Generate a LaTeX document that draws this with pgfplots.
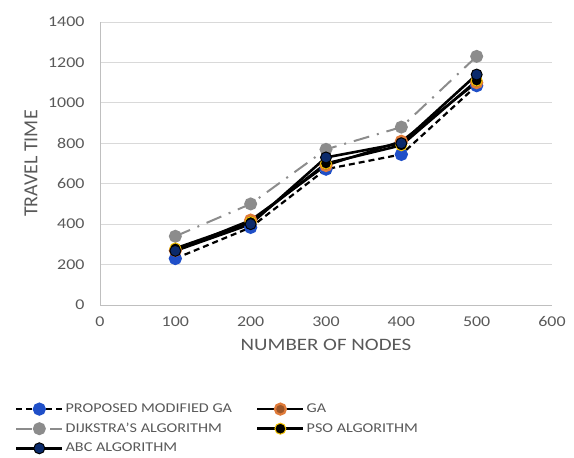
\documentclass[border=0pt]{standalone}
\usepackage{pgfplots}
\pgfplotsset{compat=1.18}
\usepackage{fontspec}
\setmainfont{Carlito}[FakeStretch=1.2]
\newfontfamily\plainfont{Carlito}
\definecolor{txt}{HTML}{595959}
\definecolor{gridc}{HTML}{D9D9D9}
\definecolor{axc}{HTML}{BFBFBF}
\definecolor{pblue}{HTML}{1F4FC8}
\definecolor{gaorange}{HTML}{E07B39}
\definecolor{dgray}{HTML}{8C8C8C}
\definecolor{psoy}{HTML}{F2C100}
\definecolor{abcb}{HTML}{0B2A6B}
\begin{document}
\begin{tikzpicture}
\begin{axis}[
  name=ax,
  scale only axis,
  width=452bp, height=283bp,
  xmin=0, xmax=600, ymin=0, ymax=1400,
  xtick={0,100,...,600}, ytick={0,200,...,1400},
  axis x line*=bottom, axis y line*=left,
  axis line style={axc, line width=1pt},
  x axis line style={-}, y axis line style={-},
  tick style={draw=none},
  ymajorgrids, grid style={gridc, line width=0.8pt},
  /pgf/number format/assume math mode=true,
  /pgf/number format/1000 sep={},
  ticklabel style={font=\fontsize{15}{17}\selectfont, text=txt},
  xticklabel style={yshift=-8bp},
  yticklabel style={xshift=-12bp},
  xlabel={NUMBER OF NODES}, ylabel={TRAVEL TIME},
  xlabel style={font=\fontsize{17.5}{19}\selectfont, text=txt, yshift=-6bp},
  ylabel style={font=\plainfont\fontsize{20}{21}\selectfont, text=txt, yshift=4bp},
  legend columns=2,
  legend cell align=left,
  legend style={draw=none, fill=none, at={(-0.195,-0.335)}, anchor=north west,
    font=\fontsize{13.5}{15}\selectfont, text=txt,
    /tikz/every even column/.append style={column sep=22bp},
    row sep=5bp},
  legend image code/.code={\draw (0bp,0bp) -- (46bp,0bp); \draw plot coordinates {(23bp,0bp)};},
]
\addplot[black, dashed, line width=2.2pt, dash pattern=on 6bp off 4bp, mark=*, mark size=5.5bp, mark options={solid, fill=pblue, draw=pblue}]
  coordinates {(100,230)(200,384)(300,672)(400,745)(500,1085)};
\addlegendentry{PROPOSED MODIFIED GA}
\addplot[black, line width=2.2pt, mark=*, mark size=5.5bp, mark options={fill=gaorange!70!black, draw=gaorange}]
  coordinates {(100,270)(200,420)(300,690)(400,810)(500,1100)};
\addlegendentry{GA}
\addplot[dgray, line width=2pt, dash pattern=on 16bp off 8bp on 2bp off 8bp, mark=*, mark size=5.5bp, mark options={solid, fill=dgray, draw=dgray}]
  coordinates {(100,340)(200,500)(300,770)(400,880)(500,1230)};
\addlegendentry{DIJKSTRA'S ALGORITHM}
\addplot[black, line width=2.6pt, mark=*, mark size=5.5bp, mark options={fill=black, draw=psoy, line width=1pt}]
  coordinates {(100,280)(200,410)(300,700)(400,790)(500,1110)};
\addlegendentry{PSO ALGORITHM}
\addplot[black, line width=2.6pt, mark=*, mark size=5.5bp, mark options={fill=abcb, draw=black, line width=1pt}]
  coordinates {(100,268)(200,400)(300,730)(400,800)(500,1140)};
\addlegendentry{ABC ALGORITHM}
\end{axis}
\useasboundingbox ([xshift=-100bp,yshift=-151bp]ax.south west) rectangle ([xshift=22bp,yshift=22bp]ax.north east);
\end{tikzpicture}
\end{document}
